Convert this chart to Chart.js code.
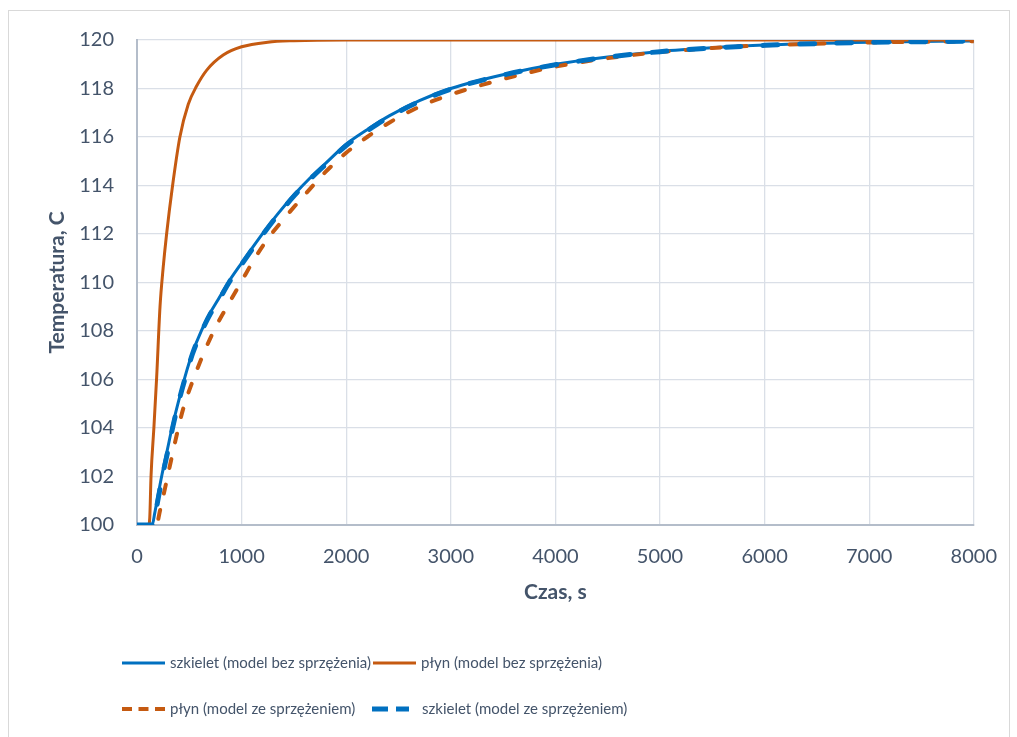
<!DOCTYPE html>
<html>
<head>
<meta charset="utf-8">
<script src="https://cdn.jsdelivr.net/npm/chart.js@4.4.1/dist/chart.umd.min.js"></script>
<style>
  html, body { margin: 0; padding: 0; background: #fff; }
  #ramka { position: absolute; left: 8px; top: 10px; width: 1002px; height: 740px; border: 1px solid #D9D9D9; box-sizing: border-box; }
  #wykres { position: absolute; left: 0; top: 0; }
</style>
</head>
<body>
<div id="ramka"></div>
<canvas id="wykres" width="1017" height="737"></canvas>
<script>
// szkielet (model bez sprzężenia)
const czasSzkieletBez = [0, 145, 170, 200, 240, 290, 337, 400, 458, 530, 617, 700, 776, 880, 1000, 1190, 1350, 1508, 1652, 1800, 2000, 2200, 2415, 2700, 3000, 3529, 4000, 4500, 5000, 5500, 6000, 7000, 8000];
const tempSzkieletBez = [100, 100, 100.5, 101.2, 102.1, 103.1, 104.05, 105.15, 106.1, 107.1, 108.03, 108.75, 109.3, 110.05, 110.8, 111.95, 112.85, 113.65, 114.3, 114.9, 115.7, 116.3, 116.88, 117.5, 118.0, 118.6, 119.0, 119.3, 119.53, 119.68, 119.79, 119.91, 119.96];

// płyn (model bez sprzężenia)
const czasPlynBez = [0, 110, 122, 134, 162, 188, 220, 250, 283, 337, 410, 490, 570, 665, 824, 1000, 1250, 1500, 2000, 8000];
const tempPlynBez = [100, 100, 100.3, 102, 104.05, 106.1, 109.0, 110.6, 112, 113.9, 116.0, 117.35, 118.1, 118.75, 119.38, 119.72, 119.91, 119.97, 120, 120];

// płyn (model ze sprzężeniem)
const czasPlynZe = [0, 185, 220, 267, 325, 379, 442, 538, 649, 745, 880, 1000, 1126, 1250, 1429, 1652, 1800, 2000, 2200, 2415, 2700, 3000, 3529, 4000, 4500, 5000, 5500, 6000, 7000, 8000];
const tempPlynZe = [100, 100, 100.6, 101.5, 102.65, 103.7, 104.8, 106.0, 107.2, 108.1, 109.15, 110.05, 111.0, 111.8, 112.75, 113.85, 114.55, 115.35, 116.0, 116.6, 117.25, 117.75, 118.42, 118.9, 119.25, 119.5, 119.67, 119.78, 119.9, 119.95];

// szkielet (model ze sprzężeniem)
const czasSzkieletZe = [0, 150, 175, 205, 245, 295, 340, 400, 460, 530, 620, 700, 780, 880, 1000, 1190, 1350, 1508, 1652, 1800, 2000, 2200, 2415, 2700, 3000, 3529, 4000, 4500, 5000, 5500, 6000, 7000, 8000];
const tempSzkieletZe = [100, 100, 100.45, 101.15, 102.05, 103.05, 104.0, 105.1, 106.05, 107.05, 108.0, 108.7, 109.25, 110.0, 110.75, 111.9, 112.8, 113.6, 114.25, 114.85, 115.65, 116.25, 116.84, 117.46, 117.97, 118.58, 118.98, 119.29, 119.52, 119.67, 119.78, 119.9, 119.95];

const osX = [0, 8000, 1000];
const osY = [100, 120, 2];

const niebieski = '#0070C0';
const pomaranczowy = '#C55A11';
const kolorTekstu = '#44546A';

function punkty(czas, temp) {
  return czas.map((t, i) => ({ x: t, y: temp[i] }));
}

// legenda w dwóch kolumnach, jak w Excelu
const legendaExcel = {
  id: 'legendaExcel',
  afterDraw(chart) {
    const ctx = chart.ctx;
    const pozycje = [[122, 663], [373, 663], [122, 709], [372, 709]];
    const wzory = [[], [], [10, 6.5], [16, 8]];
    const dlugosci = [43, 43, 43, 37];
    const odstepy = [48, 48, 48, 50];
    chart.data.datasets.forEach((ds, i) => {
      const [x, y] = pozycje[i];
      ctx.save();
      ctx.strokeStyle = ds.borderColor;
      ctx.lineWidth = ds.borderWidth;
      ctx.lineCap = 'butt';
      ctx.setLineDash(wzory[i]);
      ctx.beginPath();
      ctx.moveTo(x, y);
      ctx.lineTo(x + dlugosci[i], y);
      ctx.stroke();
      ctx.setLineDash([]);
      ctx.fillStyle = kolorTekstu;
      ctx.font = '15px Lato';
      ctx.textAlign = 'left';
      ctx.textBaseline = 'middle';
      ctx.fillText(ds.label, x + odstepy[i], y);
      ctx.restore();
    });
  }
};

const czcionka = { family: 'Lato', size: 20 };
const czcionkaTytulu = { family: 'Lato', size: 21, weight: 'bold' };

new Chart(document.getElementById('wykres'), {
  type: 'line',
  data: {
    datasets: [
      {
        label: 'szkielet (model bez sprzężenia)',
        data: punkty(czasSzkieletBez, tempSzkieletBez),
        borderColor: niebieski,
        borderWidth: 3,
        order: 4
      },
      {
        label: 'płyn (model bez sprzężenia)',
        data: punkty(czasPlynBez, tempPlynBez),
        borderColor: pomaranczowy,
        borderWidth: 3,
        order: 3
      },
      {
        label: 'płyn (model ze sprzężeniem)',
        data: punkty(czasPlynZe, tempPlynZe),
        borderColor: pomaranczowy,
        borderWidth: 4,
        borderDash: [9, 17],
        borderCapStyle: 'round',
        order: 2
      },
      {
        label: 'szkielet (model ze sprzężeniem)',
        data: punkty(czasSzkieletZe, tempSzkieletZe),
        borderColor: niebieski,
        borderWidth: 5,
        borderDash: [15, 22],
        borderCapStyle: 'round',
        order: 1
      }
    ]
  },
  options: {
    responsive: false,
    animation: false,
    events: [],
    layout: { padding: { left: 0, right: 42, top: 40, bottom: 112 } },
    elements: {
      point: { radius: 0 },
      line: { cubicInterpolationMode: 'monotone', fill: false }
    },
    plugins: {
      legend: { display: false },
      tooltip: { enabled: false }
    },
    scales: {
      x: {
        type: 'linear',
        min: osX[0],
        max: osX[1],
        afterFit: s => { s.height = 100; },
        ticks: { stepSize: osX[2], color: kolorTekstu, font: czcionka, padding: 20, maxRotation: 0, callback: v => String(v) },
        grid: { color: '#DADFE7', lineWidth: 1.3, drawTicks: false },
        border: { color: '#B4BDCA', width: 2 },
        title: { display: true, text: 'Czas, s', color: kolorTekstu, font: czcionkaTytulu, padding: { top: 0, bottom: 20 } }
      },
      y: {
        type: 'linear',
        min: osY[0],
        max: osY[1],
        afterFit: s => { s.width = 137; },
        ticks: { stepSize: osY[2], color: kolorTekstu, font: czcionka, padding: 23, callback: v => String(v) },
        grid: { color: '#DADFE7', lineWidth: 1.3, drawTicks: false },
        border: { color: '#B4BDCA', width: 2 },
        title: { display: true, text: 'Temperatura, C', color: kolorTekstu, font: czcionkaTytulu, padding: { top: 45, bottom: 0 } }
      }
    }
  },
  plugins: [legendaExcel]
});
</script>
</body>
</html>
